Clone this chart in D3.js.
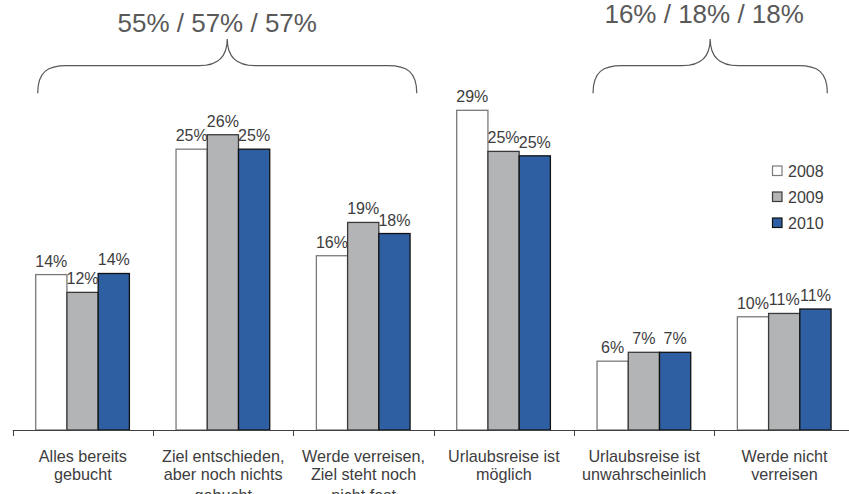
<!DOCTYPE html>
<html>
<head>
<meta charset="utf-8">
<script src="https://cdn.jsdelivr.net/npm/d3@7"></script>
<style>
  html, body { margin: 0; padding: 0; background: #fff; }
  svg { display: block; font-family: "Liberation Sans", Arial, sans-serif; }
</style>
</head>
<body>
<svg id="chart" width="849" height="494"></svg>
<script>
// ---- data ----
const categories = [
  ["Alles bereits", "gebucht"],
  ["Ziel entschieden,", "aber noch nichts", "gebucht"],
  ["Werde verreisen,", "Ziel steht noch", "nicht fest"],
  ["Urlaubsreise ist", "möglich"],
  ["Urlaubsreise ist", "unwahrscheinlich"],
  ["Werde nicht", "verreisen"]
];
const years = ["2008", "2009", "2010"];
const values2008 = [14.0, 25.3, 15.7, 28.8, 6.2, 10.2];
const values2009 = [12.4, 26.6, 18.7, 25.1, 7.0, 10.5];
const values2010 = [14.1, 25.3, 17.7, 24.7, 7.0, 10.9];
const labels2008 = ["14%", "25%", "16%", "29%", "6%", "10%"];
const labels2009 = ["12%", "26%", "19%", "25%", "7%", "11%"];
const labels2010 = ["14%", "25%", "18%", "25%", "7%", "11%"];
const groupTotals = ["55% / 57% / 57%", "16% / 18% / 18%"];
const groupSpans = [[0, 2], [4, 5]];

const seriesValues = [values2008, values2009, values2010];
const seriesLabels = [labels2008, labels2009, labels2010];
const fills = ["#ffffff", "#b3b4b6", "#2e5fa3"];
const strokes = ["#7a7a7a", "#3a3a3a", "#111111"];
const textColor = "#3d3d3d";

// ---- scales ----
const svg = d3.select("#chart");
const catIdx = categories.map((d, i) => i);
const x = d3.scaleBand().domain(catIdx).range([12.7, 854.7]).padding(0);
const x1 = d3.scaleBand().domain(years).range([23, 116.7]).padding(0);
const y = d3.scaleLinear().domain([0, 30]).range([430, 97]);

// ---- bars ----
const bars = [];
categories.forEach((c, i) => {
  years.forEach((yr, s) => {
    bars.push({ i, s, yr, v: seriesValues[s][i], label: seriesLabels[s][i] });
  });
});

svg.append("g").selectAll("rect").data(bars).join("rect")
  .attr("x", d => x(d.i) + x1(d.yr))
  .attr("y", d => y(d.v))
  .attr("width", x1.bandwidth())
  .attr("height", d => y(0) - y(d.v))
  .attr("fill", d => fills[d.s])
  .attr("stroke", d => strokes[d.s])
  .attr("stroke-width", 1.3);

svg.append("g").selectAll("text").data(bars).join("text")
  .attr("x", d => x(d.i) + x1(d.yr) + x1.bandwidth() / 2)
  .attr("y", d => y(d.v) - 8)
  .attr("text-anchor", "middle")
  .attr("font-size", 16)
  .attr("fill", textColor)
  .text(d => d.label);

// ---- axis ----
const axisY = y(0) + 0.5;
const axis = svg.append("g");
axis.append("line")
  .attr("x1", x.range()[0]).attr("x2", 849)
  .attr("y1", axisY).attr("y2", axisY)
  .attr("stroke", "#404040").attr("stroke-width", 1);
axis.selectAll("line.tick").data(catIdx).join("line")
  .attr("class", "tick")
  .attr("x1", d => Math.round(x(d)) + 0.5).attr("x2", d => Math.round(x(d)) + 0.5)
  .attr("y1", axisY).attr("y2", axisY + 5.5)
  .attr("stroke", "#404040").attr("stroke-width", 1);

const lineY = [461.7, 479.5, 501];
const catLabels = axis.selectAll("text.cat").data(categories).join("text")
  .attr("class", "cat")
  .attr("text-anchor", "middle")
  .attr("font-size", 16.2)
  .attr("fill", textColor);
catLabels.each(function(lines, i) {
  d3.select(this).selectAll("tspan").data(lines).join("tspan")
    .attr("x", x(i) + x.bandwidth() / 2)
    .attr("y", (d, k) => lineY[k])
    .text(d => d);
});

// ---- braces ----
const braceTop = 39, braceMid = 65.7, braceBottom = 93.3;
const braceOffsets = [[25, 123.4], [19, 113]];
function bracePath(x0, x2) {
  const xc = (x0 + x2) / 2;
  return `M${x0},${braceBottom}` +
    ` C${x0},${braceMid + 6} ${x0 + 10},${braceMid} ${x0 + 29},${braceMid}` +
    ` L${xc - 28},${braceMid}` +
    ` C${xc - 10},${braceMid} ${xc},${braceMid - 8} ${xc},${braceTop}` +
    ` C${xc},${braceMid - 8} ${xc + 10},${braceMid} ${xc + 28},${braceMid}` +
    ` L${x2 - 29},${braceMid}` +
    ` C${x2 - 10},${braceMid} ${x2},${braceMid + 6} ${x2},${braceBottom}`;
}
const braceG = svg.append("g");
groupSpans.forEach((span, g) => {
  const x0 = x(span[0]) + braceOffsets[g][0];
  const x2 = x(span[1]) + braceOffsets[g][1];
  braceG.append("path")
    .attr("d", bracePath(x0, x2))
    .attr("fill", "none")
    .attr("stroke", "#595959")
    .attr("stroke-width", 1.2);
  braceG.append("text")
    .attr("x", (x0 + x2) / 2 - 10 + (g === 1 ? 4 : 0))
    .attr("y", g === 0 ? 32.3 : 23.3)
    .attr("text-anchor", "middle")
    .attr("font-size", 26)
    .attr("fill", "#595959")
    .text(groupTotals[g]);
});

// ---- legend ----
const legend = svg.append("g").selectAll("g").data(years).join("g")
  .attr("transform", (d, i) => `translate(772.5, ${166 + i * 26})`);
legend.append("rect")
  .attr("width", 9.5).attr("height", 9.5)
  .attr("fill", (d, i) => fills[i])
  .attr("stroke", (d, i) => strokes[i])
  .attr("stroke-width", 1.2);
legend.append("text")
  .attr("x", 15.5).attr("y", 11)
  .attr("font-size", 16)
  .attr("fill", textColor)
  .text(d => d);
</script>
</body>
</html>
